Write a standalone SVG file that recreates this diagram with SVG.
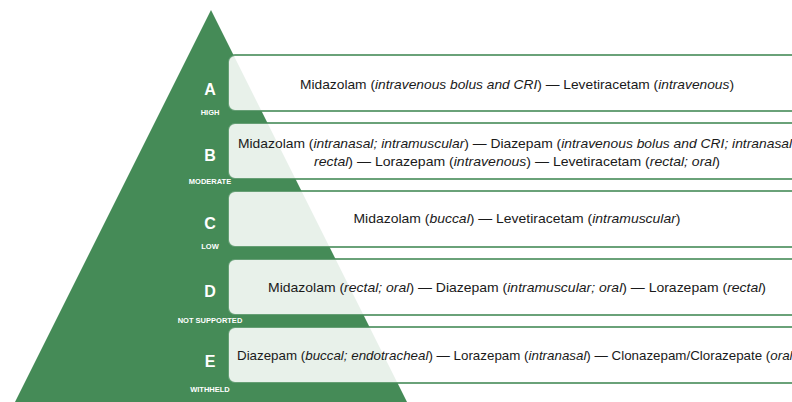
<svg xmlns="http://www.w3.org/2000/svg" width="792" height="402" viewBox="0 0 792 402">
<style>
.box{fill:#ffffff;fill-opacity:0.88;stroke:#458b57;stroke-opacity:0.8;stroke-width:2}
.let{font-family:"Liberation Sans",Arial,sans-serif;font-weight:bold;font-size:16px;fill:#ffffff;text-anchor:middle}
.sub{font-family:"Liberation Sans",Arial,sans-serif;font-weight:bold;font-size:7.5px;fill:#ffffff;text-anchor:middle}
.txt{font-family:"Liberation Sans",Arial,sans-serif;font-size:13.6px;fill:#1a1a1a;text-anchor:middle}
.i{font-style:italic}
</style>
<rect width="792" height="402" fill="#ffffff"/>
<g id="pyramid">
<polygon points="211,10 15,402 407,402" fill="#458b57"/>
</g>
<g id="tier-A">
<text class="let" x="210" y="95">A</text>
<text class="sub" x="210" y="115">HIGH</text>
<rect class="box" x="228" y="55" width="600" height="56" rx="7"/>
<text class="txt" x="517" y="88.5" textLength="434" lengthAdjust="spacingAndGlyphs">Midazolam (<tspan class="i">intravenous bolus and CRI</tspan>) — Levetiracetam (<tspan class="i">intravenous</tspan>)</text>
</g>
<g id="tier-B">
<text class="let" x="210" y="161">B</text>
<text class="sub" x="210" y="184">MODERATE</text>
<rect class="box" x="228" y="123" width="600" height="56" rx="7"/>
<text class="txt" x="517" y="147.5" textLength="558" lengthAdjust="spacingAndGlyphs">Midazolam (<tspan class="i">intranasal; intramuscular</tspan>) — Diazepam (<tspan class="i">intravenous bolus and CRI; intranasal;</tspan></text>
<text class="txt" x="517" y="165.5" textLength="406" lengthAdjust="spacingAndGlyphs"><tspan class="i">rectal</tspan>) — Lorazepam (<tspan class="i">intravenous</tspan>) — Levetiracetam (<tspan class="i">rectal; oral</tspan>)</text>
</g>
<g id="tier-C">
<text class="let" x="210" y="229">C</text>
<text class="sub" x="210" y="249">LOW</text>
<rect class="box" x="228" y="191" width="600" height="56" rx="7"/>
<text class="txt" x="517" y="222.5" textLength="327" lengthAdjust="spacingAndGlyphs">Midazolam (<tspan class="i">buccal</tspan>) — Levetiracetam (<tspan class="i">intramuscular</tspan>)</text>
</g>
<g id="tier-D">
<text class="let" x="210" y="297">D</text>
<text class="sub" x="210" y="322.5">NOT SUPPORTED</text>
<rect class="box" x="228" y="259" width="600" height="56" rx="7"/>
<text class="txt" x="517" y="291.5" textLength="498" lengthAdjust="spacingAndGlyphs">Midazolam (<tspan class="i">rectal; oral</tspan>) — Diazepam (<tspan class="i">intramuscular; oral</tspan>) — Lorazepam (<tspan class="i">rectal</tspan>)</text>
</g>
<g id="tier-E">
<text class="let" x="210" y="367">E</text>
<text class="sub" x="210" y="391.5">WITHHELD</text>
<rect class="box" x="228" y="327" width="600" height="56" rx="7"/>
<text class="txt" x="517" y="359.5" textLength="560" lengthAdjust="spacingAndGlyphs">Diazepam (<tspan class="i">buccal; endotracheal</tspan>) — Lorazepam (<tspan class="i">intranasal</tspan>) — Clonazepam/Clorazepate (<tspan class="i">oral</tspan>)</text>
</g>
<g id="connectors"/>
</svg>
